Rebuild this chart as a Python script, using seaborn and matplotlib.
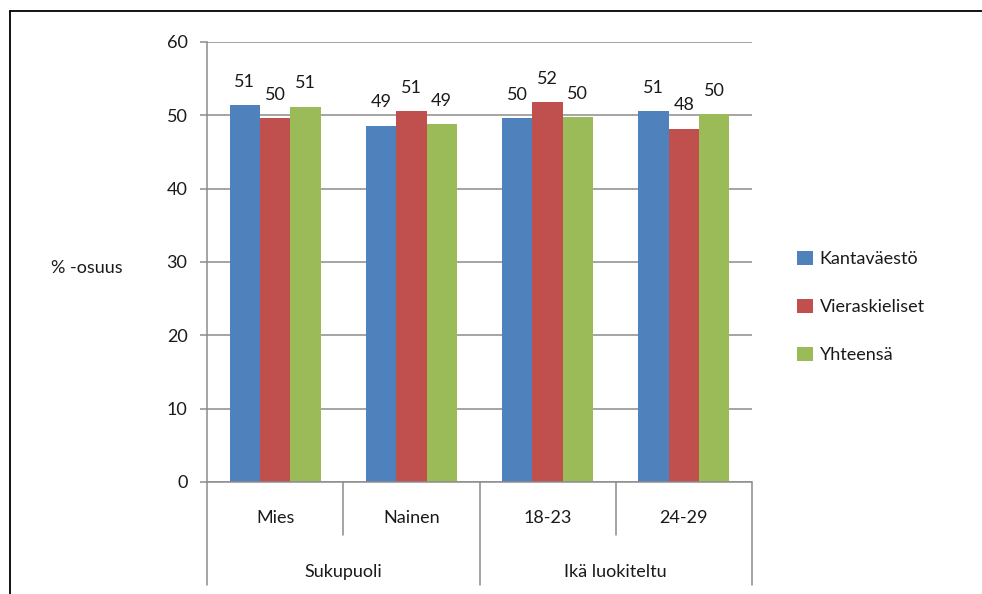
import matplotlib
matplotlib.use("Agg")
import matplotlib.pyplot as plt
import matplotlib.transforms as mtransforms
from matplotlib.patches import Patch
import seaborn as sns
import pandas as pd

# Survey shares (%) by group
categories = ["Mies", "Nainen", "18-23", "24-29"]
groups = ["Sukupuoli", "Ikä luokiteltu"]
series = ["Kantaväestö", "Vieraskieliset", "Yhteensä"]
kantavaesto = [51.4, 48.6, 49.6, 50.6]
vieraskieliset = [49.6, 50.6, 51.8, 48.2]
yhteensa = [51.2, 48.8, 49.8, 50.2]
y_ticks = [0, 10, 20, 30, 40, 50, 60]
y_label = "% -osuus"

colors = ["#4F81BD", "#C0504D", "#9BBB59"]
grid_color = "#8C8C8C"
text_color = "#1a1a1a"
fs = 13

sns.set_style("white")
plt.rcParams["font.family"] = ["Lato", "DejaVu Sans"]
plt.rcParams["font.size"] = fs

df = pd.DataFrame({
    "Luokka": categories * 3,
    "Sarja": [s for s in series for _ in categories],
    "Osuus": kantavaesto + vieraskieliset + yhteensa,
})

fig = plt.figure(figsize=(9.82, 5.94), dpi=100)
ax = fig.add_axes([207 / 982, 1 - 482 / 594, 545 / 982, 440 / 594])

sns.barplot(data=df, x="Luokka", y="Osuus", hue="Sarja", order=categories,
            hue_order=series, palette=colors, saturation=1, width=2 / 3,
            linewidth=0, errorbar=None, ax=ax, zorder=3)

# value labels above bars
for cont in ax.containers:
    ax.bar_label(cont, fmt="%.0f", padding=11, fontsize=fs, color=text_color)

ax.set_ylim(0, 60)
ax.set_xlim(-0.5, len(categories) - 0.5)
ax.set_yticks(y_ticks)
ax.yaxis.grid(True, color=grid_color, linewidth=1.1, zorder=0)
ax.set_axisbelow(True)
ax.tick_params(axis="y", left=True, length=5, width=1.1, color=grid_color,
               pad=9, labelsize=fs, labelcolor=text_color)
ax.set_xticks([])
ax.set_xlabel("")
ax.set_ylabel("")
for side in ["top", "right", "bottom"]:
    ax.spines[side].set_visible(False)
ax.spines["left"].set_color(grid_color)
ax.spines["left"].set_linewidth(1.1)
ax.axhline(0, color=grid_color, linewidth=1.1, zorder=4, clip_on=False)
ax.get_legend().remove()

# two-level category axis
trans = mtransforms.blended_transform_factory(ax.transData, ax.transAxes)
inner_bottom = -53 / 440
outer_bottom = -103 / 440
n = len(categories)
for i in range(n + 1):
    x = i - 0.5
    bottom = outer_bottom if i % 2 == 0 else inner_bottom
    ax.plot([x, x], [0, bottom], transform=trans, color=grid_color,
            linewidth=1.1, clip_on=False)
for i, c in enumerate(categories):
    ax.text(i, -36 / 440, c, transform=trans, ha="center", va="center",
            fontsize=fs, color=text_color)
for j, g in enumerate(groups):
    ax.text(2 * j + 0.5, -90 / 440, g, transform=trans, ha="center",
            va="center", fontsize=fs, color=text_color)

fig.text(87 / 982, 1 - 268 / 594, y_label, ha="center", va="center",
         fontsize=fs, color=text_color)

handles = [Patch(facecolor=c, edgecolor="none") for c in colors]
fig.legend(handles, series, loc="center left",
           bbox_to_anchor=(781 / 982, 1 - 307 / 594), frameon=False,
           fontsize=fs, labelspacing=1.75, handlelength=0.85,
           handleheight=0.85, handletextpad=0.4, labelcolor=text_color)

# chart frame: top and left edges
fig.add_artist(plt.Line2D([10 / 982, 1], [1 - 11 / 594] * 2,
                          transform=fig.transFigure, color="black",
                          linewidth=1.3))
fig.add_artist(plt.Line2D([10 / 982] * 2, [0, 1 - 11 / 594],
                          transform=fig.transFigure, color="black",
                          linewidth=1.3))

fig.savefig("out.png", dpi=100, facecolor="white")
